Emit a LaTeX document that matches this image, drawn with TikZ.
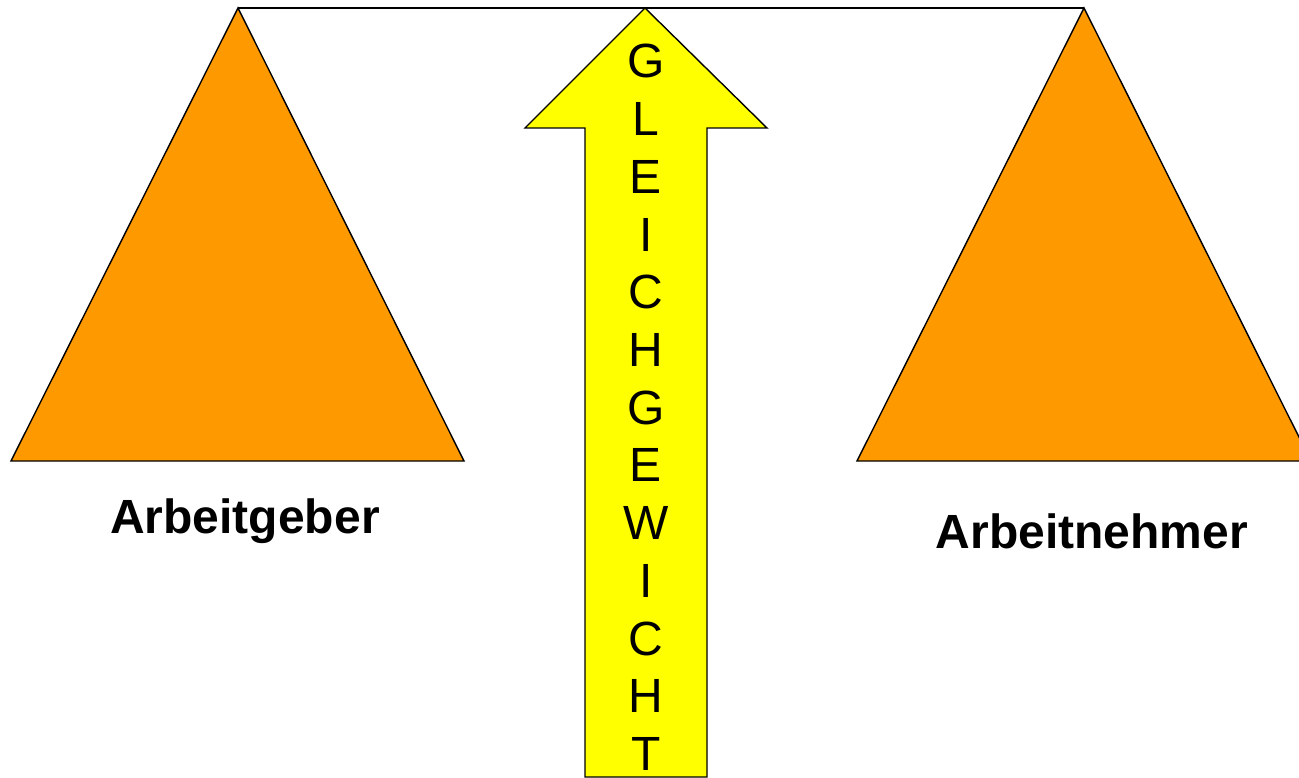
\documentclass[tikz,border=0pt]{standalone}
\usepackage{fontspec}
\setmainfont{Liberation Sans}
\definecolor{tri}{HTML}{FF9900}
\definecolor{arr}{HTML}{FFFF00}
\begin{document}
\begin{tikzpicture}[x=1pt,y=-1pt,
  outl/.style={draw=black,line width=1.4pt,line join=miter},
  letter/.style={anchor=base,inner sep=0pt,font=\fontsize{48}{57}\selectfont},
  lab/.style={anchor=base,inner sep=0pt,font=\fontsize{48}{57}\selectfont\bfseries}]
\useasboundingbox (0,0) rectangle (1299,778);
\begin{scope}
\clip (0,0) rectangle (1299,778);
% apexes
\coordinate (la) at (238,8);
\coordinate (ra) at (1084,8);
% triangles
\filldraw[outl,fill=tri] (la) -- (464,461) -- (11,461) -- cycle;
\filldraw[outl,fill=tri] (ra) -- (1311,461) -- (857,461) -- cycle;
% beam
\draw[line width=1.4pt] (la) -- (ra);
% arrow
\filldraw[outl,fill=arr] (645,8) -- (767,128) -- (707,128) -- (707,777) -- (585,777) -- (585,128) -- (525,128) -- cycle;
\end{scope}
\foreach \ch [count=\i from 0] in {G,L,E,I,C,H,G,E,W,I,C,H,T}
  \node[letter] (l\i) at (646,{78+57.7*\i}) {\ch};
\node[lab] (ag) at (245,533) {Arbeitgeber};
\node[lab] (an) at (1092,548) {Arbeitnehmer};
\end{tikzpicture}
\end{document}
